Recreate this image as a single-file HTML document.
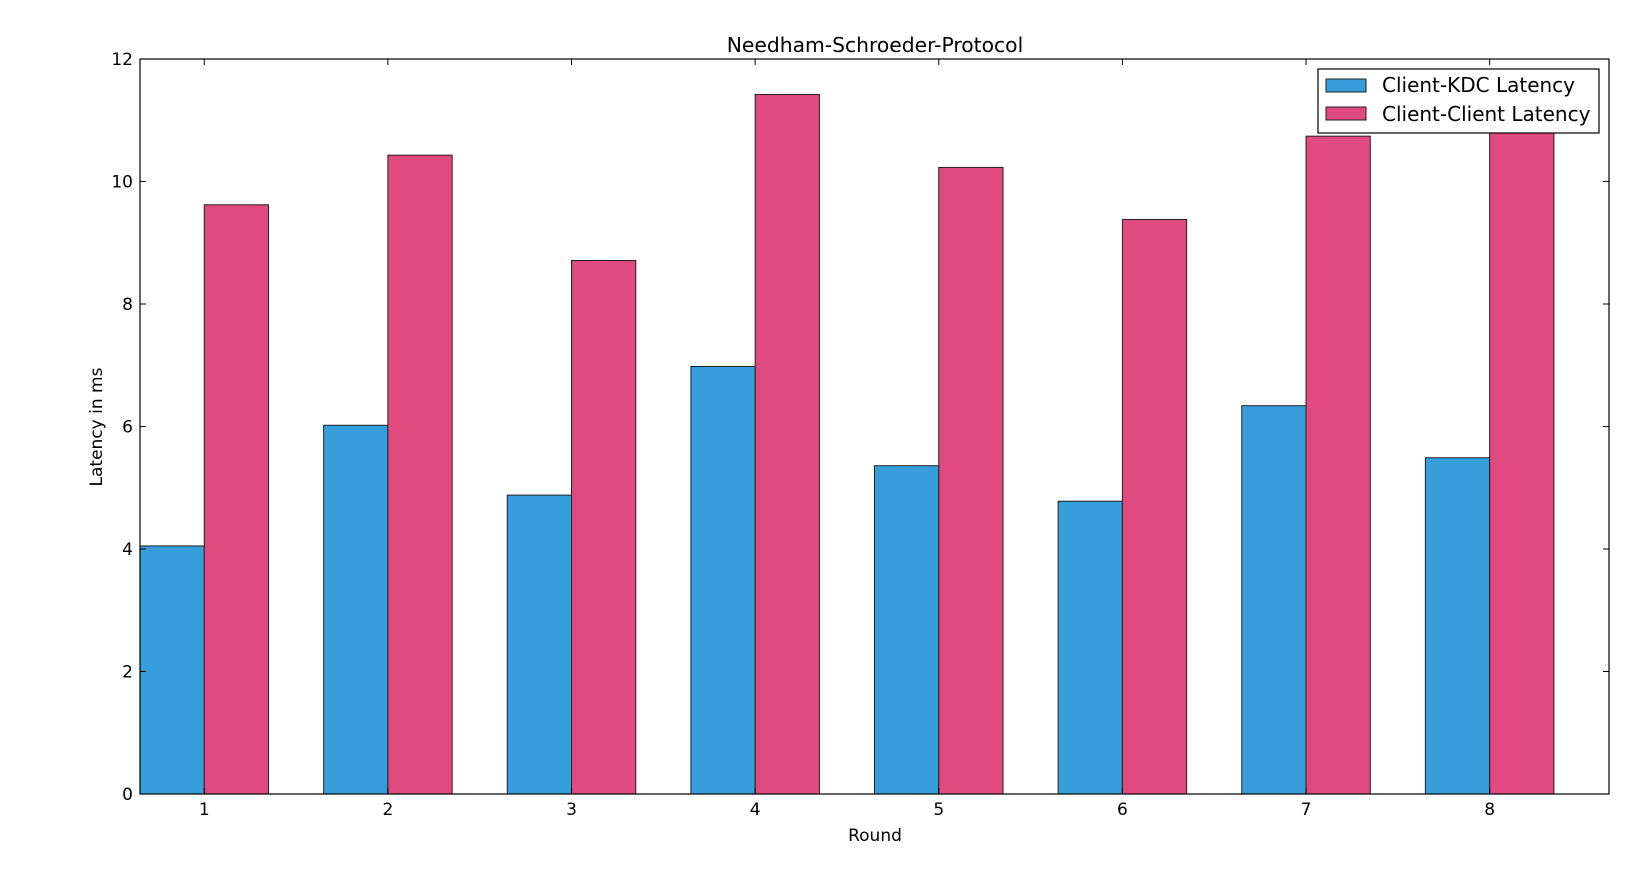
<!DOCTYPE html>
<html><head><meta charset="utf-8"><style>
body{margin:0;background:#fff;}
svg text{font-family:"DejaVu Sans","Liberation Sans",sans-serif;fill:#000;}
</style></head><body>
<svg id="chart" width="1646" height="887" xmlns="http://www.w3.org/2000/svg">
<text x="875" y="52" font-size="20.3" text-anchor="middle">Needham-Schroeder-Protocol</text>
<g id="bars"></g>
<g id="axes"></g>
<text x="875" y="841" font-size="17" text-anchor="middle">Round</text>
<text transform="translate(102,427) rotate(-90)" font-size="17" text-anchor="middle">Latency in ms</text>
<g>
<rect x="1318" y="69" width="281" height="64" fill="#fff" stroke="#000" stroke-width="1.2"/>
<g><rect x="1326" y="79" width="40" height="13" fill="#369fdb" stroke="#222"/><text x="1382" y="92" font-size="20">Client-KDC Latency</text></g>
<g><rect x="1326" y="107" width="40" height="13" fill="#e04a7f" stroke="#222"/><text x="1382" y="121" font-size="20">Client-Client Latency</text></g>
</g>
</svg>
<script>
const categories = [1,2,3,4,5,6,7,8];
const kdcLatency = [4.05,6.02,4.88,6.98,5.36,4.78,6.34,5.49];
const clientLatency = [9.62,10.43,8.71,11.42,10.23,9.38,10.74,10.95];
const yTicks = [0,2,4,6,8,10,12];
const NS="http://www.w3.org/2000/svg";
const L=140,R=1609,T=59,B=794;
const xMin=0.65,xMax=8.65,yMax=12,bw=0.35;
const xs=v=>L+(v-xMin)/(xMax-xMin)*(R-L);
const ys=v=>B-v/yMax*(B-T);
const bars=document.getElementById('bars'),axes=document.getElementById('axes');
function mk(tag,a,p){const e=document.createElementNS(NS,tag);for(const k in a)e.setAttribute(k,a[k]);p.appendChild(e);return e;}
categories.forEach((c,i)=>{
 const b1=mk('rect',{x:xs(c-bw),y:ys(kdcLatency[i]),width:xs(c)-xs(c-bw),height:B-ys(kdcLatency[i]),fill:'#369fdb',stroke:'#222','stroke-width':1},bars);
 
 
 const b2=mk('rect',{x:xs(c),y:ys(clientLatency[i]),width:xs(c+bw)-xs(c),height:B-ys(clientLatency[i]),fill:'#e04a7f',stroke:'#222','stroke-width':1},bars);
 
 
 mk('line',{x1:xs(c),x2:xs(c),y1:B,y2:B-6,stroke:'#000'},axes);
 mk('line',{x1:xs(c),x2:xs(c),y1:T,y2:T+6,stroke:'#000'},axes);
 const t=mk('text',{x:xs(c),y:B+21,'font-size':17,'text-anchor':'middle'},axes);t.textContent=c;
 
 
});
yTicks.forEach(v=>{
 mk('line',{x1:L,x2:L+6,y1:ys(v),y2:ys(v),stroke:'#000'},axes);
 mk('line',{x1:R,x2:R-6,y1:ys(v),y2:ys(v),stroke:'#000'},axes);
 const t=mk('text',{x:L-7,y:ys(v)+6,'font-size':17,'text-anchor':'end'},axes);t.textContent=v;
 
 
});
const f=mk('rect',{x:L,y:T,width:R-L,height:B-T,fill:'none',stroke:'#000','stroke-width':1.2},axes);


</script>
</body></html>
